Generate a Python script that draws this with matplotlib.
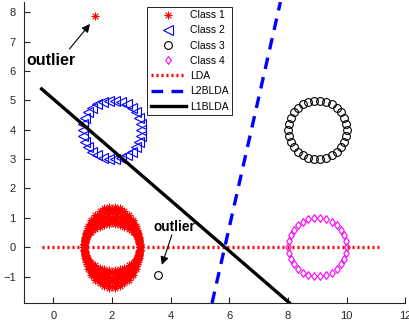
import numpy as np
import matplotlib
matplotlib.use("Agg")
import matplotlib.pyplot as plt
from matplotlib.path import Path

plt.rcParams['font.family'] = ['Liberation Sans', 'DejaVu Sans']

# ring clusters: centre, horizontal radius, vertical radii, points per ring
class1_center = (2.0, 0.0)
class1_rx = 0.95
class1_ry = [0.78, 0.855, 0.93, 1.005, 1.08, 1.155, 1.23, 1.305, 1.38]
class1_npts = 34
class1_outlier = (1.42, 7.86)

class2_center = (2.0, 4.0)
class2_radius = 1.0
class2_npts = 30

class3_center = (9.0, 4.0)
class3_radius = 1.0
class3_npts = 30
class3_outlier = (3.58, -0.94)

class4_center = (9.0, 0.0)
class4_radius = 1.0
class4_npts = 30

# projection directions drawn as segments
lda_x = [-0.4, 11.2]
lda_y = [0.0, 0.0]
l2blda_x = [5.41, 7.74]
l2blda_y = [-1.9, 8.35]
l1blda_x = [-0.4, 8.05]
l1blda_y = [5.39, -1.9]

x_ticks = [0, 2, 4, 6, 8, 10, 12]
y_ticks = [-1, 0, 1, 2, 3, 4, 5, 6, 7, 8]


def ring(center, rx, ry, n, phase=0.0):
    t = np.linspace(0, 2 * np.pi, n, endpoint=False) + phase
    return center[0] + rx * np.cos(t), center[1] + ry * np.sin(t)


fig = plt.figure(figsize=(4.10, 3.27), dpi=100)
ax = fig.add_axes([24 / 410, 24 / 327, (405.4 - 24) / 410, 301 / 327])

ast = (8, 2, 0)
diamond = Path([(0, 1), (0.72, 0), (0, -1), (-0.72, 0), (0, 1)],
               [Path.MOVETO, Path.LINETO, Path.LINETO, Path.LINETO,
                Path.CLOSEPOLY])

c1x, c1y = [], []
for k, ry in enumerate(class1_ry):
    step = np.pi / class1_npts
    xx, yy = ring(class1_center, class1_rx, ry, class1_npts, step * (k % 2))
    c1x.extend(xx)
    c1y.extend(yy)
c1x.append(class1_outlier[0])
c1y.append(class1_outlier[1])
ax.plot(c1x, c1y, linestyle='none', marker=ast, ms=5.5, mec='red', mew=0.6,
        label='Class 1')

c2x, c2y = ring(class2_center, class2_radius, class2_radius, class2_npts)
ax.plot(c2x, c2y, linestyle='none', marker='<', ms=6.5, mfc='none', mec='blue',
        mew=0.8, label='Class 2')

c3x, c3y = ring(class3_center, class3_radius, class3_radius, class3_npts)
c3x = np.append(c3x, class3_outlier[0])
c3y = np.append(c3y, class3_outlier[1])
ax.plot(c3x, c3y, linestyle='none', marker='o', ms=5.6, mfc='none', mec='black',
        mew=0.8, label='Class 3')

c4x, c4y = ring(class4_center, class4_radius, class4_radius, class4_npts)
ax.plot(c4x, c4y, linestyle='none', marker=diamond, ms=5.6, mfc='none',
        mec='magenta', mew=0.8, label='Class 4')

ax.plot(lda_x, lda_y, color='red', lw=2.4, linestyle=(0, (0.6, 0.9)),
        dash_capstyle='butt', label='LDA')
ax.plot(l2blda_x, l2blda_y, color='blue', lw=2.4, linestyle=(0, (3.5, 2.5)),
        label='L2BLDA')
ax.plot(l1blda_x, l1blda_y, color='black', lw=2.4, label='L1BLDA')

arrow = dict(arrowstyle='-|>', color='black', lw=0.8, mutation_scale=12,
             shrinkA=0, shrinkB=0)
ax.annotate('', xy=(1.25, 7.6), xytext=(0.55, 6.75), arrowprops=arrow)
ax.text(-0.93, 6.35, 'outlier', fontsize=11.5, fontweight='bold',
        ha='left', va='center')
ax.annotate('', xy=(3.70, -0.6), xytext=(4.04, 0.42), arrowprops=arrow)
ax.text(3.41, 0.70, 'outlier', fontsize=9.8, fontweight='bold',
        ha='left', va='center')

ax.set_xlim(-1, 12)
ax.set_ylim(-1.9, 8.35)
ax.set_xticks(x_ticks)
ax.set_yticks(y_ticks)
gray = (0.15, 0.15, 0.15)
ax.tick_params(direction='in', length=4, width=0.8, colors=gray,
               labelsize=8, pad=6)
for side in ('top', 'right'):
    ax.spines[side].set_visible(False)
for side in ('left', 'bottom'):
    ax.spines[side].set_color(gray)
    ax.spines[side].set_linewidth(0.8)

leg = ax.legend(loc='upper left', bbox_to_anchor=(0.323, 0.984),
                borderaxespad=0, fontsize=7.5, handlelength=3.4,
                handletextpad=0.4, labelspacing=0.5, borderpad=0.33,
                numpoints=1, fancybox=False, framealpha=1)
leg.get_frame().set_edgecolor('black')
leg.get_frame().set_linewidth(0.6)

fig.savefig('out.png', dpi=100)
